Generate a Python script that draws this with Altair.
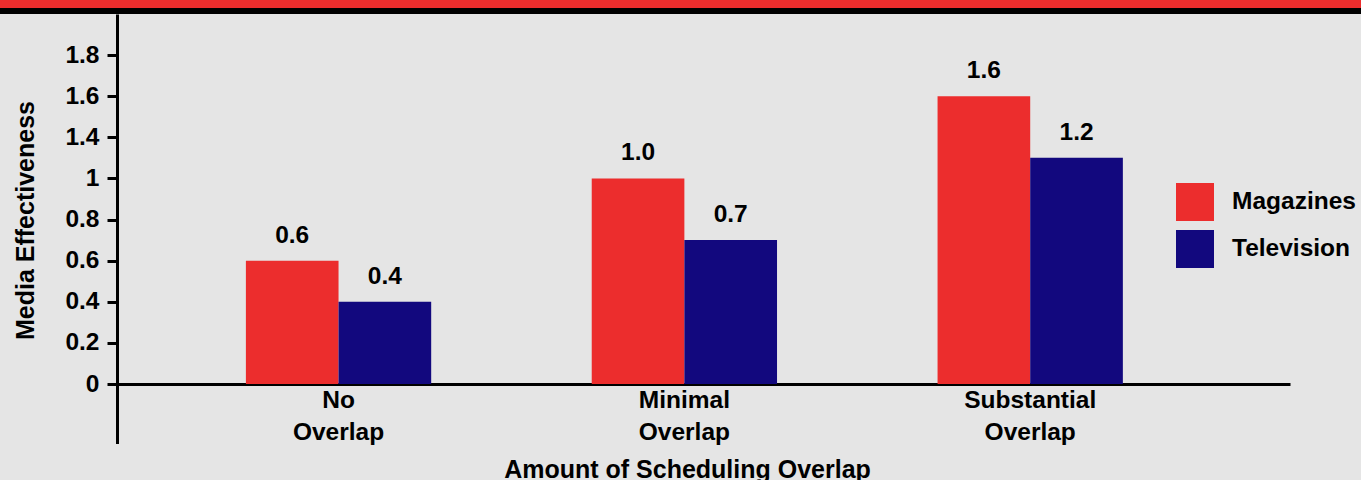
import altair as alt
import pandas as pd

# Chart data
categories = ["No Overlap", "Minimal Overlap", "Substantial Overlap"]
series = ["Magazines", "Television"]
magazines = [0.6, 1.0, 1.6]
television = [0.4, 0.7, 1.2]
y_ticks = [0, 0.2, 0.4, 0.6, 0.8, 1, 1.4, 1.6, 1.8]
colors = ["#EC2D2D", "#12087E"]

rows = []
for cat, m, t in zip(categories, magazines, television):
    rows.append({"cat": cat, "series": series[0], "value": m})
    rows.append({"cat": cat, "series": series[1], "value": t})
df = pd.DataFrame(rows)

W, H = 1173, 370
FONT = "Liberation Sans"
FS = 24.5
BG = "#E5E5E5"

# value axis: the gap between 1 and 1.4 takes a single tick step
y_scale = alt.Scale(domain=[0, 1, 1.4, 2.0], range=[H, 164.4, 123.3, 0], nice=False)
x_scale = alt.Scale(domain=categories, paddingInner=0.4642, paddingOuter=0.428, align=0.4354)

x_enc = alt.X(
    "cat:N",
    sort=categories,
    scale=x_scale,
    title="Amount of Scheduling Overlap",
    axis=alt.Axis(
        labelExpr="split(datum.label, ' ')",
        labelAngle=0,
        ticks=False,
        tickSize=0,
        domainColor="black",
        domainWidth=3,
        labelPadding=23,
        labelBaseline="alphabetic",
        labelLineHeight=32,
        labelFont=FONT,
        labelFontSize=FS,
        labelFontWeight="bold",
        labelColor="black",
        titleFont=FONT,
        titleFontSize=25,
        titleFontWeight="bold",
        titleColor="black",
        titleX=570,
        titleY=93,
        titleBaseline="alphabetic",
    ),
)
xo_enc = alt.XOffset("series:N", scale=alt.Scale(domain=series, paddingInner=0, paddingOuter=0))
y_enc = alt.Y(
    "value:Q",
    scale=y_scale,
    title="Media Effectiveness",
    axis=alt.Axis(
        values=y_ticks,
        format="~g",
        grid=False,
        domainColor="black",
        domainWidth=3,
        tickColor="black",
        tickWidth=3,
        tickSize=10,
        labelPadding=8,
        labelFont=FONT,
        labelFontSize=FS,
        labelFontWeight="bold",
        labelColor="black",
        titleFont=FONT,
        titleFontSize=25,
        titleFontWeight="bold",
        titleColor="black",
        titleAngle=270,
        titleX=-84,
        titleY=206,
        titleAlign="center",
        titleBaseline="alphabetic",
    ),
)

bars = alt.Chart(df).mark_bar().encode(
    x=x_enc,
    xOffset=xo_enc,
    y=y_enc,
    color=alt.Color(
        "series:N",
        scale=alt.Scale(domain=series, range=colors),
        legend=alt.Legend(
            orient="none",
            legendX=1059,
            legendY=169,
            title=None,
            symbolType="square",
            symbolSize=1444,
            symbolStrokeWidth=0,
            symbolOpacity=1,
            labelFont=FONT,
            labelFontSize=FS,
            labelFontWeight="bold",
            labelColor="black",
            labelOffset=18,
            rowPadding=9,
            padding=0,
        ),
    ),
)

labels = alt.Chart(df).mark_text(
    dy=-18, baseline="alphabetic", font=FONT, fontSize=FS, fontWeight="bold", color="black"
).encode(
    x=x_enc,
    xOffset=xo_enc,
    y=y_enc,
    text=alt.Text("value:Q", format=".1f"),
)

one = pd.DataFrame({"k": [0]})

# header bands across the top
red_band = alt.Chart(one).mark_rect(color="#EC2D2D").encode(
    x=alt.value(-117), x2=alt.value(W + 71), y=alt.value(-14), y2=alt.value(-6)
)
black_band = alt.Chart(one).mark_rect(color="black").encode(
    x=alt.value(-117), x2=alt.value(W + 71), y=alt.value(-6), y2=alt.value(0)
)

# the vertical axis line continues below the baseline
axis_tail = alt.Chart(one).mark_rule(color="black", strokeWidth=3).encode(
    x=alt.value(0.5), y=alt.value(H), y2=alt.value(430)
)

chart = (
    alt.layer(red_band, black_band, bars, labels, axis_tail)
    .properties(
        width=W,
        height=H,
        background=BG,
        padding={"left": 117, "top": 14, "right": 71, "bottom": 96},
        autosize=alt.AutoSizeParams(type="none"),
    )
    .configure_view(stroke=None)
)

chart.save("out.html", embed_options={"renderer": "svg", "actions": False})
